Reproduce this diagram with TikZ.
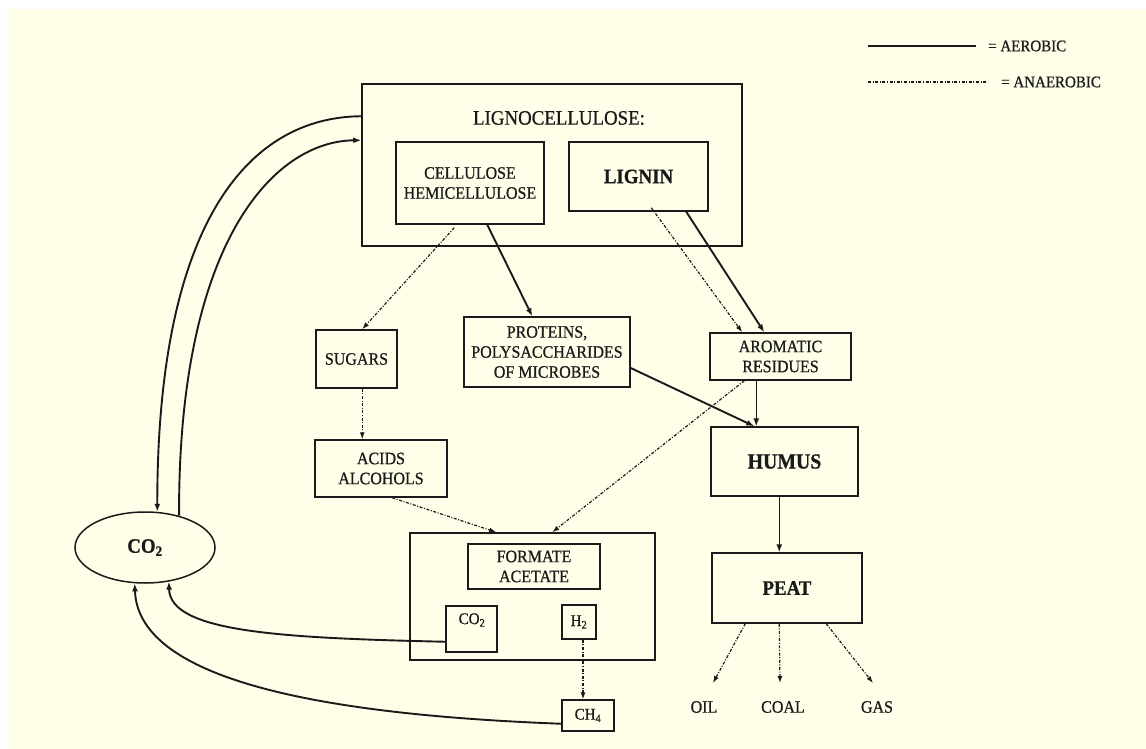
\documentclass[tikz,border=0pt]{standalone}
\usepackage{fontspec}
\setmainfont{Liberation Serif}[FakeStretch=0.92, FakeBold=0.7]
\usetikzlibrary{shapes.geometric,arrows.meta,calc}
\definecolor{bgc}{HTML}{FFFEE9}
\definecolor{ink}{HTML}{1A1A1A}
\begin{document}
\begin{tikzpicture}[x=1pt,y=-1pt,
  box/.style={draw=ink, line width=1.5pt, inner sep=0pt, align=center, text=ink, font=\fontsize{17.4}{20}\selectfont},
  bbox/.style={box, font=\bfseries\fontsize{20.5}{22}\selectfont},
  lbl/.style={text=ink, inner sep=0pt, font=\fontsize{17.4}{20}\selectfont},
  sml/.style={font=\fontsize{16.3}{18}\selectfont},
  aer/.style={draw=ink, line width=1.9pt, -{Latex[length=8pt,width=6pt]}},
  aerthin/.style={draw=ink, line width=1.3pt, -{Latex[length=8pt,width=6pt]}},
  ana/.style={draw=ink, line width=1.2pt, dash pattern=on 3pt off 1.6pt on 1pt off 1.6pt, -{Latex[length=7pt,width=5pt]}},
  legaer/.style={draw=ink, line width=1.3pt},
  legana/.style={draw=ink, line width=1.1pt, dash pattern=on 3pt off 1.6pt on 1pt off 1.6pt},
]
\useasboundingbox (0,0) rectangle (1146,749);
\fill[white] (0,0) rectangle (1146,749);
\fill[bgc] (7,9) rectangle (1146,749);

% legend
\node[lbl, sml, anchor=west] (laer) at (988,46) {= AEROBIC};
\node[lbl, sml, anchor=west] (lana) at (1001,82) {= ANAEROBIC};
\draw[legaer] ($(laer.west)+(-120,0)$) -- ($(laer.west)+(-12,0)$);
\draw[legana] ($(lana.west)+(-133,0)$) -- ($(lana.west)+(-14,0)$);

% lignocellulose
\node[box, minimum width=380, minimum height=162] (lig) at (552,165) {};
\node[lbl, font=\fontsize{20.5}{22}\selectfont] (ligt) at (559,118) {LIGNOCELLULOSE:};
\node[box, minimum width=148, minimum height=82] (cel) at (470,183) {CELLULOSE\\HEMICELLULOSE};
\node[bbox, minimum width=139, minimum height=69] (lgn) at (638.5,176.5) {LIGNIN};

% middle row
\node[box, minimum width=81, minimum height=58] (sug) at (356.5,359) {SUGARS};
\node[box, minimum width=166, minimum height=70] (pro) at (547,352) {PROTEINS,\\POLYSACCHARIDES\\OF MICROBES};
\node[box, minimum width=141, minimum height=47] (aro) at (780.5,356.5) {AROMATIC\\RESIDUES};
\node[box, minimum width=132, minimum height=57] (acd) at (381,468.5) {ACIDS\\ALCOHOLS};
\node[bbox, minimum width=147, minimum height=69, font=\bfseries\fontsize{21.5}{22}\selectfont] (hum) at (784.5,461.5) {HUMUS};
\node[bbox, minimum width=150, minimum height=70] (peat) at (787,588) {PEAT};

% formate group
\node[box, minimum width=245, minimum height=127] (fo) at (532.5,596.5) {};
\node[box, minimum width=132, minimum height=45] (fa) at (534,566.5) {FORMATE\\ACETATE};
\node[box, minimum width=51, minimum height=46] (cb) at (471.5,629) {};
\node[lbl, sml] (cbt) at (472,620) {CO\textsubscript{2}};
\node[box, sml, minimum width=34, minimum height=34] (hb) at (579,622) {H\textsubscript{2}};
\node[box, sml, minimum width=52, minimum height=31] (ch) at (588,715.5) {CH\textsubscript{4}};

% CO2 ellipse
\node[ellipse, draw=ink, line width=1.5pt, minimum width=140, minimum height=71, inner sep=0pt, text=ink, font=\bfseries\fontsize{20.5}{22}\selectfont] (co2) at (145,547.5) {CO\textsubscript{2}};

% products
\node[lbl] (oil) at (704,707) {OIL};
\node[lbl] (coal) at (783,707) {COAL};
\node[lbl] (gas) at (877,707) {GAS};
\coordinate (oilt) at (713,683);
\coordinate (coalt) at (780,683);
\coordinate (gast) at (873,683);

% connectors
\draw[ana] ($(cel.south west)+(59,3)$) -- ($(sug.north west)+(47,0)$);
\draw[aer] ($(cel.south west)+(92,0)$) -- ($(pro.north west)+(69,0)$);
\draw[ana] ($(lgn.south west)+(83,-4)$) -- ($(aro.north west)+(33,0)$);
\draw[aer] ($(lgn.south west)+(118,0)$) -- ($(aro.north west)+(55,0)$);
\draw[ana] ($(sug.south west)+(47,0)$) -- ($(acd.north west)+(48,0)$);
\draw[aer] ($(pro.east)+(0,16)$) -- ($(hum.north west)+(44,0)$);
\draw[aerthin] ($(aro.south west)+(47,0)$) -- ($(hum.north west)+(46,0)$);
\draw[ana] ($(acd.south west)+(78,0)$) -- ($(fo.north west)+(87,0)$);
\draw[ana] ($(aro.south west)+(35,0)$) -- ($(fo.north west)+(143,0)$);
\draw[aerthin] ($(hum.south west)+(69,0)$) -- ($(peat.north west)+(68,0)$);
\draw[ana] ($(hb.south)+(4,0)$) -- ($(ch.north)+(-5,0)$);
\draw[ana] ($(peat.south west)+(34,0)$) -- (oilt);
\draw[ana] ($(peat.south west)+(68,0)$) -- (coalt);
\draw[ana] ($(peat.south west)+(115,0)$) -- (gast);

% carbon cycle curves
\draw[aer] ($(lig.north west)+(0,33)$) .. controls (250,117) and (157,220) .. (co2.71);
\draw[aer] (co2.43) .. controls (178,240) and (275,141) .. ($(lig.north west)+(0,57)$);
\draw[aer] ($(cb.south west)+(0,-11)$) .. controls (280,638) and (170,632) .. (co2.-55);
\draw[aer] ($(ch.south west)+(0,-8)$) .. controls (330,715) and (138,682) .. (co2.-106);
\end{tikzpicture}
\end{document}
